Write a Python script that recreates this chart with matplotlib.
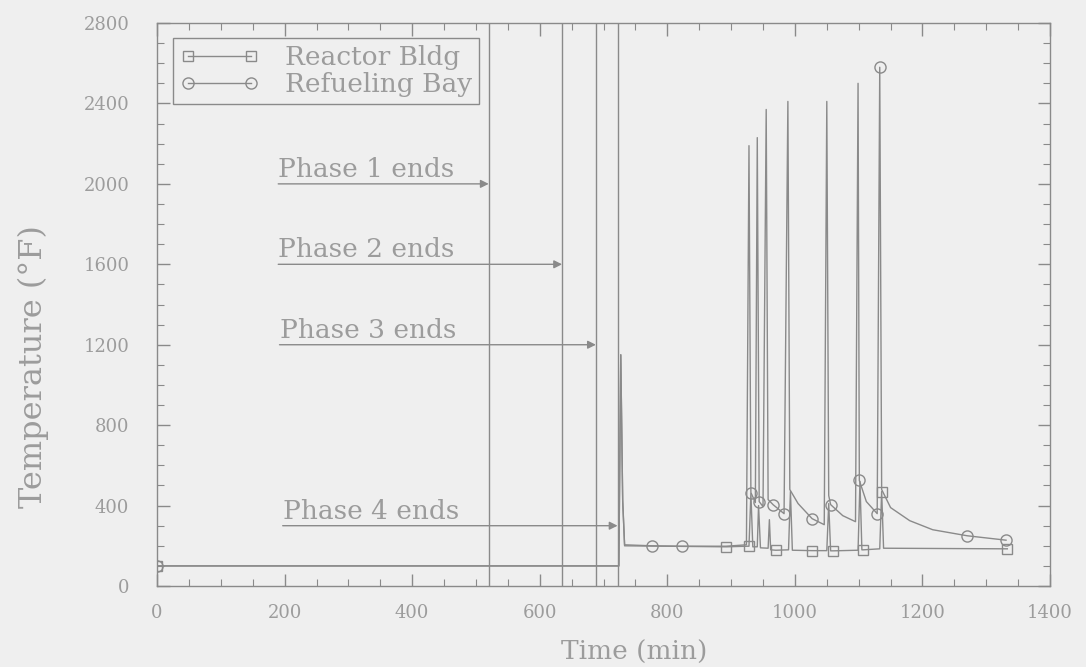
import matplotlib
matplotlib.use("Agg")
import matplotlib.pyplot as plt
from matplotlib.ticker import MultipleLocator

# -------------------------------
# data
# -------------------------------
# Refueling Bay (circles)
bay_t = [0, 724, 727, 730, 733, 776, 823, 892, 924,
         928, 931, 938,
         941, 944, 950,
         955, 958, 966, 983,
         989, 992, 1005, 1027, 1046,
         1050, 1053, 1056, 1075, 1095,
         1099, 1101, 1112, 1129,
         1133, 1136, 1150, 1180, 1216, 1270, 1331]
bay_T = [100, 100, 1150, 420, 205, 200, 198, 198, 205,
         2190, 465, 415,
         2230, 420, 395,
         2370, 430, 404, 360,
         2410, 480, 410, 335, 305,
         2410, 450, 405, 350, 320,
         2500, 525, 420, 360,
         2580, 480, 390, 325, 280, 250, 228]
bay_marks = [0, 5, 6, 10, 13, 17, 18, 22, 26, 30, 32, 33, 38, 39]

# Reactor Bldg (squares)
rb_t = [0, 724, 727, 730, 733, 892, 926, 928, 931, 934, 941, 943, 946,
        958, 960, 962, 970, 990, 993, 996, 1027, 1050, 1053, 1056, 1060,
        1099, 1102, 1105, 1107, 1133, 1136, 1139, 1333]
rb_T = [100, 100, 1150, 430, 200, 195, 198, 198, 460, 195, 195, 400, 190,
        188, 330, 180, 178, 180, 470, 178, 176, 176, 410, 175, 175,
        178, 520, 180, 180, 185, 470, 188, 185]
rb_marks = [0, 5, 7, 16, 20, 24, 28, 30, 32]

# phase end times and where the labels sit
phase_ends = [520, 635, 688, 722]
phase_labels = ["Phase 1 ends", "Phase 2 ends", "Phase 3 ends", "Phase 4 ends"]
phase_label_T = [2000, 1600, 1200, 300]
phase_label_t = [190, 190, 192, 197]

ink = "#8a8a8a"
txt = "#9c9c9c"
paper = "#efefef"

fig = plt.figure(figsize=(10.86, 6.67), dpi=100, facecolor=paper)
ax = fig.add_axes([0.1446, 0.1214, 0.8223, 0.8441], facecolor=paper)

# phase end lines (full height)
for pe in phase_ends:
    ax.axvline(pe, color=ink, lw=1.0)

ax.plot(rb_t, rb_T, color=ink, lw=1.0, marker="s", markevery=rb_marks,
        markersize=7, markerfacecolor="none", markeredgecolor=ink,
        label="Reactor Bldg")
ax.plot(bay_t, bay_T, color=ink, lw=1.0, marker="o", markevery=bay_marks,
        markersize=8, markerfacecolor="none", markeredgecolor=ink,
        label="Refueling Bay")

# phase annotations: underline arrow from text start to the phase line
for lab, pe, yT, xs in zip(phase_labels, phase_ends, phase_label_T, phase_label_t):
    ax.annotate("", xy=(pe, yT), xytext=(xs, yT),
                arrowprops=dict(arrowstyle="-|>", color=ink, lw=1.0,
                                mutation_scale=12, shrinkA=0, shrinkB=0))
    ax.text(xs, yT + 10, lab, family="DejaVu Serif", fontsize=19,
            color=txt, ha="left", va="bottom")

ax.set_xlim(0, 1400)
ax.set_ylim(0, 2800)
ax.xaxis.set_major_locator(MultipleLocator(200))
ax.xaxis.set_minor_locator(MultipleLocator(50))
ax.yaxis.set_major_locator(MultipleLocator(400))
ax.yaxis.set_minor_locator(MultipleLocator(100))
ax.tick_params(which="both", direction="in", top=True, right=True,
               color=ink, labelcolor=txt)
ax.tick_params(which="major", length=9, width=1.0)
ax.tick_params(which="minor", length=5, width=0.8)
ax.tick_params(axis="y", pad=20)
ax.tick_params(axis="x", pad=13)
for lbl in ax.get_xticklabels() + ax.get_yticklabels():
    lbl.set_family("DejaVu Serif")
    lbl.set_fontsize(13)
for sp in ax.spines.values():
    sp.set_color(ink)
    sp.set_linewidth(1.0)

ax.set_xlabel("Time (min)", family="DejaVu Serif", fontsize=19, color=txt,
              va="top")
ax.xaxis.set_label_coords(0.534, -0.096)
ax.set_ylabel("Temperature (°F)", family="DejaVu Serif", fontsize=23,
              color=txt)
ax.yaxis.set_label_coords(-0.121, 0.39)

leg = ax.legend(loc="upper left", bbox_to_anchor=(0.018, 0.973),
                borderaxespad=0, numpoints=2, fancybox=False,
                edgecolor=ink, facecolor=paper, framealpha=1,
                prop={"family": "DejaVu Serif", "size": 19},
                handlelength=3.0, handletextpad=1.0, labelspacing=0.1,
                borderpad=0.25)
for t in leg.get_texts():
    t.set_color(txt)

fig.savefig("out.png", dpi=100, facecolor=paper)
